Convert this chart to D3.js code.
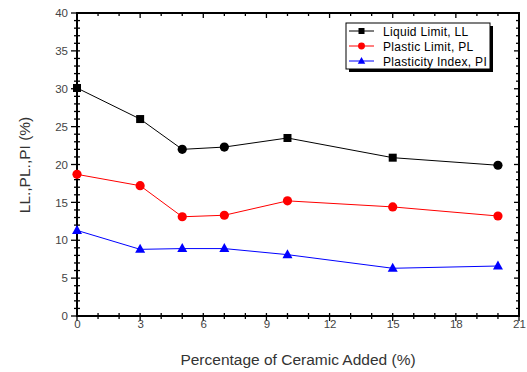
<!DOCTYPE html>
<html>
<head>
<meta charset="utf-8">
<script src="https://cdn.jsdelivr.net/npm/d3@7"></script>
<style>
body { margin: 0; background: #fff; }
text { font-family: "Liberation Sans", Arial, sans-serif; }
</style>
</head>
<body>
<script>
// data
var ceramic = [0, 3, 5, 7, 10, 15, 20]
var liquidLimit = [30.1, 26.0, 22.0, 22.3, 23.5, 20.9, 19.9]
var plasticLimit = [18.7, 17.2, 13.1, 13.3, 15.2, 14.4, 13.2]
var plasticityIndex = [11.3, 8.8, 8.9, 8.9, 8.1, 6.3, 6.6]
var llShapes = ['square', 'square', 'circle', 'circle', 'square', 'square', 'circle']
var xTicks = [0, 3, 6, 9, 12, 15, 18, 21]
var yTicks = [0, 5, 10, 15, 20, 25, 30, 35, 40]
var seriesNames = ['Liquid Limit, LL', 'Plastic Limit, PL', 'Plasticity Index, PI']

var width = 527
var height = 372
var pLeft = 77, pRight = 519, pTop = 13, pBottom = 316

var svg = d3.select('body').append('svg')
    .attr('width', width)
    .attr('height', height)

var x = d3.scaleLinear().domain([0, 21]).range([pLeft, pRight])
var y = d3.scaleLinear().domain([0, 40]).range([pBottom, pTop])

// minor + major ticks on all four sides
var xMinor = d3.range(0, 22, 1)
var yMinor = d3.range(0, 41, 1)
var tk = svg.append('g').attr('stroke', '#000').attr('stroke-width', 1.3)
xMinor.forEach(function(v) {
    var major = v % 3 == 0
    tk.append('line').attr('x1', x(v)).attr('x2', x(v))
        .attr('y1', pBottom - 3).attr('y2', pBottom + (major ? 5 : 3))
    tk.append('line').attr('x1', x(v)).attr('x2', x(v))
        .attr('y1', pTop).attr('y2', pTop + (major ? 5 : 3))
})
yMinor.forEach(function(v) {
    var major = v % 5 == 0
    tk.append('line').attr('y1', y(v)).attr('y2', y(v))
        .attr('x1', pLeft - (major ? 6 : 3)).attr('x2', pLeft + 3)
    tk.append('line').attr('y1', y(v)).attr('y2', y(v))
        .attr('x1', pRight).attr('x2', pRight - (major ? 5 : 3))
})

// tick labels through the axes
var xAxis = svg.append('g')
    .attr('transform', 'translate(0,' + pBottom + ')')
    .call(d3.axisBottom(x).tickValues(xTicks).tickSize(0).tickPadding(4))
var yAxis = svg.append('g')
    .attr('transform', 'translate(' + pLeft + ',0)')
    .call(d3.axisLeft(y).tickValues(yTicks).tickSize(0).tickPadding(9))
;[xAxis, yAxis].forEach(function(a) {
    a.select('.domain').remove()
    a.selectAll('text')
        .attr('font-size', '11.5px')
        .attr('font-family', '"Liberation Sans", Arial, sans-serif')
        .attr('fill', '#444')
})

// frame
svg.append('rect')
    .attr('x', pLeft).attr('y', pTop)
    .attr('width', pRight - pLeft).attr('height', pBottom - pTop)
    .attr('fill', 'none').attr('stroke', '#000').attr('stroke-width', 2)

// axis titles
svg.append('text')
    .attr('x', 298).attr('y', 365)
    .attr('text-anchor', 'middle')
    .attr('font-size', '15.5px')
    .attr('fill', '#333')
    .text('Percentage of Ceramic Added (%)')
svg.append('text')
    .attr('transform', 'translate(30,165) rotate(-90)')
    .attr('text-anchor', 'middle')
    .attr('font-size', '15.5px')
    .attr('fill', '#333')
    .text('LL.,PL.,PI (%)')

var series = [
    { vals: liquidLimit, color: '#000', shapes: llShapes },
    { vals: plasticLimit, color: '#f00', shapes: ceramic.map(function() { return 'circle' }) },
    { vals: plasticityIndex, color: '#00f', shapes: ceramic.map(function() { return 'triangle' }) }
]

var line = d3.line()
    .x(function(d) { return x(d[0]) })
    .y(function(d) { return y(d[1]) })

function drawMarker(g, shape, cx, cy, color, s) {
    s = s || 1
    if (shape == 'square') {
        g.append('rect').attr('x', cx - 4 * s).attr('y', cy - 4 * s)
            .attr('width', 8 * s).attr('height', 8 * s).attr('fill', color)
    } else if (shape == 'circle') {
        g.append('circle').attr('cx', cx).attr('cy', cy).attr('r', 4.6 * s).attr('fill', color)
    } else {
        g.append('path')
            .attr('d', 'M' + cx + ',' + (cy - 5.5 * s) + 'L' + (cx + 5 * s) + ',' + (cy + 3.5 * s) +
                'L' + (cx - 5 * s) + ',' + (cy + 3.5 * s) + 'Z')
            .attr('fill', color)
    }
}

var plot = svg.append('g')
series.forEach(function(s) {
    var pts = ceramic.map(function(c, i) { return [c, s.vals[i]] })
    plot.append('path')
        .datum(pts)
        .attr('d', line)
        .attr('fill', 'none')
        .attr('stroke', s.color)
        .attr('stroke-width', 1)
    pts.forEach(function(p, i) {
        drawMarker(plot, s.shapes[i], x(p[0]), y(p[1]), s.color)
    })
})

// legend
var lg = svg.append('g')
lg.append('rect').attr('x', 349).attr('y', 26).attr('width', 144).attr('height', 46).attr('fill', '#000')
lg.append('rect').attr('x', 346).attr('y', 23).attr('width', 144).attr('height', 46)
    .attr('fill', '#fff').attr('stroke', '#000').attr('stroke-width', 1)
seriesNames.forEach(function(name, i) {
    var ly = 31 + i * 15
    var shape = i == 0 ? 'square' : (i == 1 ? 'circle' : 'triangle')
    lg.append('line').attr('x1', 349).attr('x2', 374).attr('y1', ly).attr('y2', ly)
        .attr('stroke', series[i].color).attr('stroke-width', 1)
    drawMarker(lg, shape, 361.5, ly, series[i].color, 0.75)
    lg.append('text').attr('x', 383).attr('y', ly + 4.5)
        .attr('font-size', '12px').attr('letter-spacing', '0.3px').attr('fill', '#000')
        .text(name)
})
</script>
</body>
</html>
